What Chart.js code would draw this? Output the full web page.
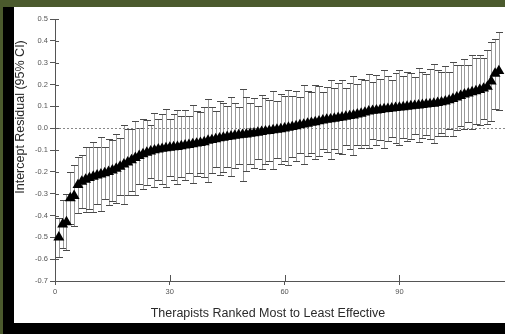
<!DOCTYPE html>
<html>
<head>
<meta charset="utf-8">
<script src="https://cdn.jsdelivr.net/npm/chart.js@4.4.0/dist/chart.umd.min.js"></script>
<style>
  html, body { margin: 0; padding: 0; }
  body { width: 505px; height: 334px; background: #000; position: relative; overflow: hidden; }
  #topband { position: absolute; left: 0; top: 0; width: 505px; height: 7px; background: #4b5a2d; }
  #leftband { position: absolute; left: 0; top: 0; width: 3px; height: 334px; background: #4b5a2d; }
  #wheel { position: absolute; left: 14px; top: 7px; background: #fff; }
</style>
</head>
<body>
<div id="topband"></div>
<div id="leftband"></div>
<canvas id="wheel" width="491" height="316"></canvas>
<script>
const canvas = document.getElementById("wheel");

//residual for each therapist, ranked most to least effective
const residuals = [
  -0.50, -0.44, -0.43, -0.32, -0.31, -0.26, -0.245, -0.235, -0.228, -0.222,
  -0.216, -0.211, -0.206, -0.200, -0.193, -0.185, -0.176, -0.166, -0.156, -0.146,
  -0.136, -0.127, -0.119, -0.112, -0.106, -0.101, -0.097, -0.094, -0.091, -0.089,
  -0.087, -0.085, -0.082, -0.079, -0.076, -0.073, -0.070, -0.067, -0.064, -0.057,
  -0.054, -0.050, -0.046, -0.043, -0.040, -0.037, -0.034, -0.032, -0.030, -0.028,
  -0.025, -0.023, -0.020, -0.017, -0.014, -0.012, -0.009, -0.006, -0.004, -0.001,
  0.003, 0.006, 0.010, 0.014, 0.017, 0.021, 0.025, 0.028, 0.032, 0.036,
  0.039, 0.041, 0.044, 0.047, 0.050, 0.053, 0.056, 0.059, 0.063, 0.067,
  0.072, 0.077, 0.080, 0.082, 0.084, 0.087, 0.089, 0.091, 0.093, 0.095,
  0.097, 0.099, 0.101, 0.103, 0.105, 0.107, 0.109, 0.111, 0.113, 0.116,
  0.119, 0.123, 0.128, 0.134, 0.141, 0.148, 0.155, 0.160, 0.165, 0.170,
  0.176, 0.182, 0.190, 0.215, 0.250, 0.262
];
//half width of the 95% CI for each therapist
const ciHalf = [
  0.09, 0.11, 0.13, 0.12, 0.14, 0.13, 0.12, 0.15, 0.14, 0.16,
  0.13, 0.17, 0.12, 0.15, 0.14, 0.16, 0.13, 0.18, 0.15, 0.14,
  0.17, 0.13, 0.16, 0.15, 0.12, 0.17, 0.14, 0.16, 0.18, 0.13,
  0.15, 0.17, 0.14, 0.16, 0.13, 0.18, 0.15, 0.14, 0.16, 0.19,
  0.15, 0.13, 0.17, 0.16, 0.14, 0.18, 0.15, 0.13, 0.21, 0.17,
  0.14, 0.16, 0.12, 0.17, 0.15, 0.14, 0.18, 0.13, 0.16, 0.15,
  0.17, 0.14, 0.16, 0.13, 0.18, 0.15, 0.14, 0.17, 0.16, 0.13,
  0.15, 0.18, 0.14, 0.16, 0.17, 0.13, 0.15, 0.18, 0.14, 0.16,
  0.15, 0.17, 0.13, 0.16, 0.14, 0.18, 0.15, 0.13, 0.16, 0.17,
  0.14, 0.16, 0.15, 0.13, 0.17, 0.15, 0.14, 0.16, 0.18, 0.15,
  0.14, 0.16, 0.13, 0.17, 0.15, 0.14, 0.16, 0.13, 0.17, 0.15,
  0.16, 0.14, 0.17, 0.18, 0.16, 0.18
];
//tick labels on x axis
const xTicks = [0, 30, 60, 90];

const axisColor = "#555";

//error bars drawn under the triangles
const errorBars = {
  id: "errorBars",
  beforeDatasetsDraw(chart) {
    const ctx = chart.ctx;
    const xs = chart.scales.x;
    const ys = chart.scales.y;
    ctx.save();
    ctx.lineWidth = 1;
    residuals.forEach((r, i) => {
      const x = Math.round(xs.getPixelForValue(i + 1)) + 0.5;
      const top = Math.round(ys.getPixelForValue(r + ciHalf[i])) + 0.5;
      const bot = Math.round(ys.getPixelForValue(r - ciHalf[i])) + 0.5;
      ctx.strokeStyle = "#999";
      ctx.beginPath();
      ctx.moveTo(x, top);
      ctx.lineTo(x, bot);
      ctx.stroke();
      ctx.strokeStyle = "#4a4a4a";
      ctx.beginPath();
      ctx.moveTo(x - 3.5, top);
      ctx.lineTo(x + 3.5, top);
      ctx.moveTo(x - 3.5, bot);
      ctx.lineTo(x + 3.5, bot);
      ctx.stroke();
    });
    ctx.restore();
  },
};

//dotted zero line, inner tick marks and the two axis titles
const extras = {
  id: "extras",
  beforeDatasetsDraw(chart) {
    const ctx = chart.ctx;
    const area = chart.chartArea;
    const xs = chart.scales.x;
    const ys = chart.scales.y;
    ctx.save();
    const y0 = Math.round(ys.getPixelForValue(0)) + 0.5;
    ctx.strokeStyle = "#888";
    ctx.lineWidth = 1;
    ctx.setLineDash([2, 2]);
    ctx.beginPath();
    ctx.moveTo(area.left, y0);
    ctx.lineTo(area.right, y0);
    ctx.stroke();
    ctx.setLineDash([]);
    //tick marks reaching into the plot
    ctx.strokeStyle = axisColor;
    ctx.beginPath();
    ys.ticks.forEach((t) => {
      const y = Math.round(ys.getPixelForValue(t.value)) + 0.5;
      ctx.moveTo(area.left, y);
      ctx.lineTo(area.left + 4, y);
    });
    xTicks.forEach((v) => {
      if (v === 0) return;
      const x = Math.round(xs.getPixelForValue(v)) + 0.5;
      ctx.moveTo(x, area.bottom);
      ctx.lineTo(x, area.bottom - 6);
    });
    ctx.stroke();
    ctx.restore();
  },
  afterDraw(chart) {
    const ctx = chart.ctx;
    ctx.save();
    ctx.fillStyle = "#2a2a2a";
    ctx.font = "12.5px 'Liberation Sans', Arial, sans-serif";
    ctx.textAlign = "center";
    ctx.textBaseline = "middle";
    ctx.fillText("Therapists Ranked Most to Least Effective", 254, 307);
    ctx.translate(7, 110);
    ctx.rotate(-Math.PI / 2);
    ctx.fillText("Intercept Residual (95% CI)", 0, 0);
    ctx.restore();
  },
};

let myChart = new Chart(canvas, {
  type: "line",
  plugins: [errorBars, extras],
  data: {
    datasets: [
      {
        data: residuals.map((r, i) => ({ x: i + 1, y: r })),
        showLine: false,
        pointStyle: "triangle",
        pointRadius: 6.3,
        pointBackgroundColor: "#000",
        pointBorderColor: "#000",
        pointBorderWidth: 0,
        clip: false,
      },
    ],
  },
  options: {
    responsive: false,
    devicePixelRatio: 1,
    animation: false,
    layout: { autoPadding: false, padding: { top: 12, right: 0, left: 0, bottom: 0 } },
    plugins: {
      tooltip: false,
      legend: { display: false },
    },
    scales: {
      x: {
        type: "linear",
        min: 0,
        max: 117.6,
        afterBuildTicks: (scale) => {
          scale.ticks = xTicks.map((v) => ({ value: v }));
        },
        afterFit: (scale) => {
          scale.height = 42;
        },
        grid: { drawOnChartArea: false, tickLength: 4, color: axisColor },
        border: { color: axisColor, width: 1 },
        ticks: {
          includeBounds: false,
          color: "#555",
          padding: 2,
          maxRotation: 0,
          font: { size: 7.5, family: "'Liberation Sans', Arial, sans-serif" },
        },
      },
      y: {
        min: -0.7,
        max: 0.5,
        afterFit: (scale) => {
          scale.width = 41;
        },
        grid: { drawOnChartArea: false, tickLength: 5, color: axisColor },
        border: { color: axisColor, width: 1 },
        ticks: {
          stepSize: 0.1,
          color: "#555",
          padding: 2,
          font: { size: 7.5, family: "'Liberation Sans', Arial, sans-serif" },
          callback: (v) => v.toFixed(1),
        },
      },
    },
  },
});
</script>
</body>
</html>
